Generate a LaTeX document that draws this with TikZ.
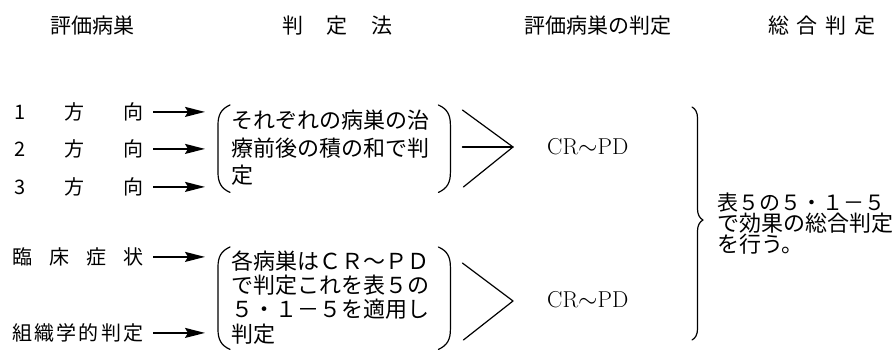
\documentclass[tikz,border=0pt]{standalone}
\usepackage{fontspec}
\newfontfamily\jp{Noto Sans CJK JP}
\usetikzlibrary{arrows.meta,decorations.pathreplacing}
\tikzset{
  jtext/.style={font=\jp\fontsize{21}{21}\selectfont, inner sep=0pt},
  lbl/.style={font=\jp\fontsize{20}{20}\selectfont, inner sep=0pt, anchor=base west},
  boxtext/.style={font=\jp\fontsize{22}{#1}\selectfont, inner sep=0pt, anchor=north west, align=left},
  holder/.style={inner sep=0pt, anchor=north west, draw=none},
  arr/.style={line width=1.6pt, -{Stealth[length=20pt,width=10pt,inset=3pt]}},
  ln/.style={line width=1.2pt, line cap=round, line join=round},
  crpd/.style={font=\fontsize{23}{23}\selectfont, inner sep=0pt, anchor=base west},
}
\begin{document}
\begin{tikzpicture}[x=1pt,y=-1pt]
\useasboundingbox (0,0) rectangle (896,352);
% headers
\node[jtext, anchor=base] (h1) at (92,34) {評価病巣};
\node[jtext, anchor=base] (h2) at (337.5,34) {\hbox to 111pt{判\hfill 定\hfill 法}};
\node[jtext, anchor=base] (h3) at (597.5,34) {評価病巣の判定};
\node[jtext, anchor=base] (h4) at (822,34) {\hbox to 108pt{総\hfill 合\hfill 判\hfill 定}};
% left labels
\node[lbl] (r1) at (14,119.5) {\hbox to 129pt{1\hfill 方\hfill 向}};
\node[lbl] (r2) at (14,156.5) {\hbox to 129pt{2\hfill 方\hfill 向}};
\node[lbl] (r3) at (14,194.5) {\hbox to 129pt{3\hfill 方\hfill 向}};
\node[lbl] (r4) at (12,264.5) {\hbox to 131pt{臨\hfill 床\hfill 症\hfill 状}};
\node[lbl] (r5) at (12,340.5) {\hbox to 131pt{組\hfill 織\hfill 学\hfill 的\hfill 判\hfill 定}};
% bracket holders
\node[holder, minimum width=234pt, minimum height=87pt] (p1) at (217,105) {};
\node[holder, minimum width=234pt, minimum height=102pt] (p2) at (217,247) {};
% bracket texts
\node[boxtext=27.5] (t1) at (231,110) {それぞれの病巣の治\\療前後の積の和で判\\定};
\node[boxtext=24.3] (t2) at (231,250.5) {各病巣はＣＲ～ＰＤ\\で判定これを表５の\\５・１－５を適用し\\判定};
% parentheses
\foreach \p in {p1,p2}{
  \draw[ln] ([xshift=13pt]\p.north west)
     .. controls ([xshift=4pt,yshift=-4pt]\p.north west) and ([xshift=1pt,yshift=-10pt]\p.north west)
     .. ([xshift=1pt,yshift=-20pt]\p.north west)
     -- ([xshift=1pt,yshift=20pt]\p.south west)
     .. controls ([xshift=1pt,yshift=10pt]\p.south west) and ([xshift=4pt,yshift=4pt]\p.south west)
     .. ([xshift=13pt]\p.south west);
  \draw[ln] ([xshift=-13pt]\p.north east)
     .. controls ([xshift=-4pt,yshift=-4pt]\p.north east) and ([xshift=-1pt,yshift=-10pt]\p.north east)
     .. ([xshift=-1pt,yshift=-20pt]\p.north east)
     -- ([xshift=-1pt,yshift=20pt]\p.south east)
     .. controls ([xshift=-1pt,yshift=10pt]\p.south east) and ([xshift=-4pt,yshift=4pt]\p.south east)
     .. ([xshift=-13pt]\p.south east);
}
% arrows
\draw[arr] ([xshift=10pt]r1.east) -- ([xshift=-12pt]r1.east -| p1.west);
\draw[arr] ([xshift=10pt]r2.east) -- ([xshift=-12pt]r2.east -| p1.west);
\draw[arr] ([xshift=10pt]r3.east) -- ([xshift=-12pt]r3.east -| p1.west);
\draw[arr] ([xshift=10pt]r4.east) -- ([xshift=-12pt]r4.east -| p2.west);
\draw[arr] ([xshift=10pt]r5.east) -- ([xshift=-12pt]r5.east -| p2.west);
% judgement
\node[crpd] (j1) at (547,155) {CR$\sim$PD};
\node[crpd] (j2) at (547,308) {CR$\sim$PD};
\coordinate (a1) at (513,147);
\coordinate (a2) at (513,301);
\draw[ln] ([xshift=11pt]p1.north east |- 0,110) -- (a1) -- ([xshift=12pt]p1.east |- 0,187);
\draw[ln] ([xshift=11pt]p1.east |- a1) -- (a1);
\draw[ln] ([xshift=11pt]p2.east |- 0,263) -- (a2) -- ([xshift=12pt]p2.east |- 0,340);
% brace
\draw[ln, decorate, decoration={brace, amplitude=11pt, aspect=0.485}] (692,107) -- (692,340);
% total
\node[boxtext=20] (tot) at (717,192.5) {\fontsize{21}{20}\selectfont 表５の５・１－５\\で効果の総合判定\\を行う。};
\end{tikzpicture}
\end{document}
